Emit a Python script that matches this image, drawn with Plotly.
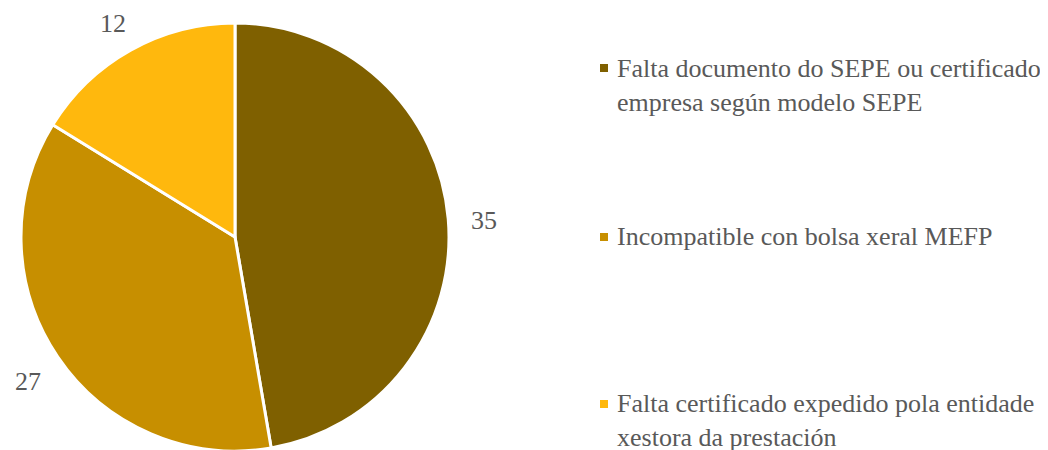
import math
import plotly.graph_objects as go

categories = [
    "Falta documento do SEPE ou certificado<br>empresa según modelo SEPE",
    "Incompatible con bolsa xeral MEFP",
    "Falta certificado expedido pola entidade<br>xestora da prestación",
]
values = [35, 27, 12]
colors = ["#7F6000", "#C78F00", "#FFB80D"]

W, H = 1048, 450
OFF = 8  # page body margin in the browser
FONT = "Liberation Serif"
TXT = "#595959"
FS = 26

# pie geometry (pixels in page coordinates, converted to figure coordinates)
cx, cy, r = 235 - OFF, 237 - OFF, 214

fig = go.Figure(go.Pie(
    labels=[c.replace("<br>", " ") for c in categories],
    values=values,
    sort=False,
    direction="clockwise",
    rotation=0,
    marker=dict(colors=colors, line=dict(color="white", width=3)),
    textinfo="none",
    hoverinfo="label+value",
    showlegend=False,
    domain=dict(x=[(cx - r) / W, (cx + r) / W], y=[max(0, (H - cy - r) / H), (H - cy + r) / H]),
))

annotations = []
shapes = []

# value labels placed outside the slices from the data angles
total = sum(values)
cum = 0
label_r = 250
label_dy = 5
for v in values:
    mid = (cum + v / 2) / total * 2 * math.pi
    cum += v
    px = cx + label_r * math.sin(mid)
    py = cy - label_r * math.cos(mid) + label_dy
    annotations.append(dict(
        x=px / W, y=1 - py / H, xref="paper", yref="paper",
        text=str(v), showarrow=False, xanchor="center", yanchor="middle",
        font=dict(family=FONT, size=FS, color=TXT),
    ))

# legend drawn manually
legend_sq = [68, 237, 404]     # square centres (page px)
legend_top = [52, 220, 387]    # text box tops (page px)
for cat, col, sy, ty in zip(categories, colors, legend_sq, legend_top):
    sy -= OFF
    ty -= OFF
    shapes.append(dict(
        type="rect", xref="paper", yref="paper",
        x0=(600 - OFF) / W, x1=(608 - OFF) / W, y0=1 - (sy + 4) / H, y1=1 - (sy - 4) / H,
        fillcolor=col, line=dict(width=0),
    ))
    annotations.append(dict(
        x=(615 - OFF) / W, y=1 - ty / H, xref="paper", yref="paper",
        text=cat, showarrow=False, xanchor="left", yanchor="top", align="left",
        font=dict(family=FONT, size=FS, color=TXT),
    ))

fig.update_layout(
    width=W, height=H,
    margin=dict(l=0, r=0, t=0, b=0),
    paper_bgcolor="white", plot_bgcolor="white",
    annotations=annotations, shapes=shapes,
)

fig.write_html("out.html")
